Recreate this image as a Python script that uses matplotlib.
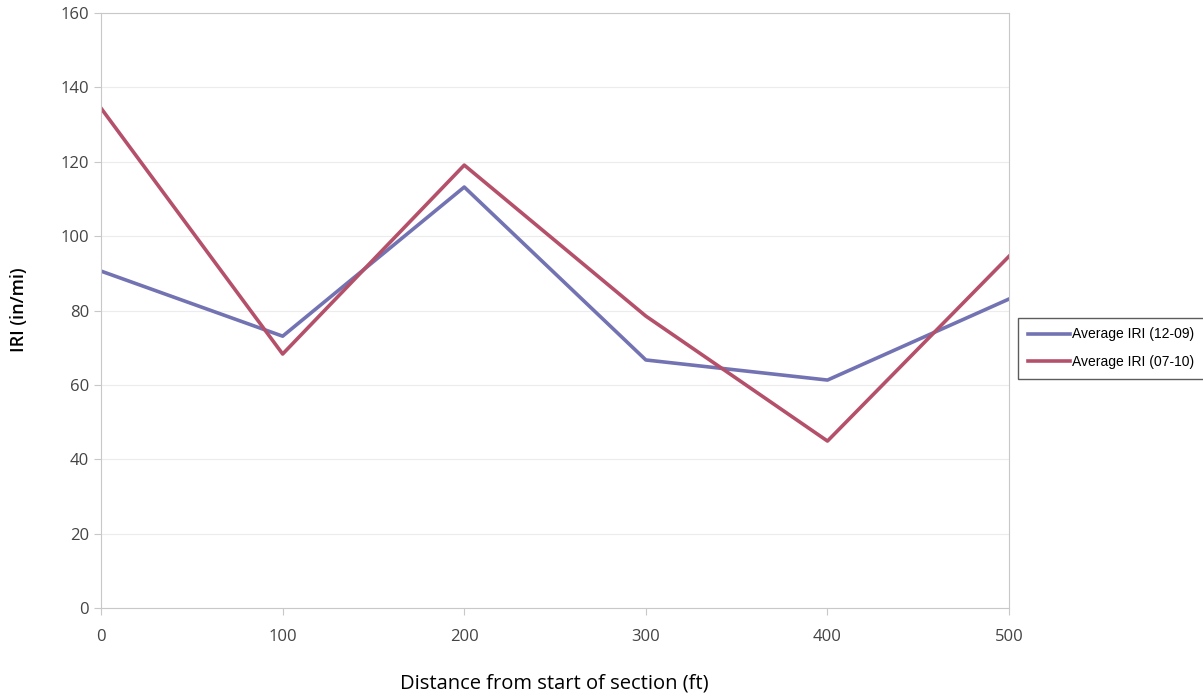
import matplotlib
matplotlib.use("Agg")
import matplotlib.pyplot as plt

distance = [0, 100, 200, 300, 400, 500]
iri_12_09 = [90.6, 73.1, 113.2, 66.7, 61.3, 83.1]
iri_07_10 = [134.4, 68.3, 119.1, 78.5, 44.9, 94.6]
labels = ["Average IRI (12-09)", "Average IRI (07-10)"]
colors = ["#7373b3", "#b5506a"]

fig = plt.figure(figsize=(12.03, 7.0), dpi=100)
ax = fig.add_axes([0.084, 0.1314, 0.7548, 0.85])

ax.plot(distance, iri_12_09, color=colors[0], lw=2.6, label=labels[0])
ax.plot(distance, iri_07_10, color=colors[1], lw=2.6, label=labels[1])

ax.set_xlim(0, 500)
ax.set_ylim(0, 160)
ax.set_xticks(range(0, 501, 100))
ax.set_yticks(range(0, 161, 20))
ax.grid(axis="y", color="#ececec", lw=0.8)
ax.set_axisbelow(True)
for s in ax.spines.values():
    s.set_color("#c8c8c8")
ax.tick_params(colors="#c8c8c8", labelcolor="#444444", labelsize=12, length=5)
ax.tick_params(axis="x", pad=10)
for t in ax.get_xticklabels() + ax.get_yticklabels():
    t.set_family("Open Sans")

fig.text(0.461, 0.024, "Distance from start of section (ft)", ha="center", va="center",
         fontsize=14.5, family="Open Sans", color="black")
fig.text(0.016, 0.557, "IRI (in/mi)", ha="center", va="center", rotation=90,
         fontsize=13, family="Open Sans", fontweight="semibold", color="black")

leg = ax.legend(loc="upper left", bbox_to_anchor=(1.01, 0.488), frameon=True,
                fancybox=False, edgecolor="#333333",
                prop={"family": "Liberation Sans", "size": 10},
                handlelength=3.0, labelspacing=1.0, borderpad=0.7, handletextpad=0.2,
                borderaxespad=0)
leg.get_frame().set_linewidth(1.0)

fig.savefig("out.png", dpi=100)
